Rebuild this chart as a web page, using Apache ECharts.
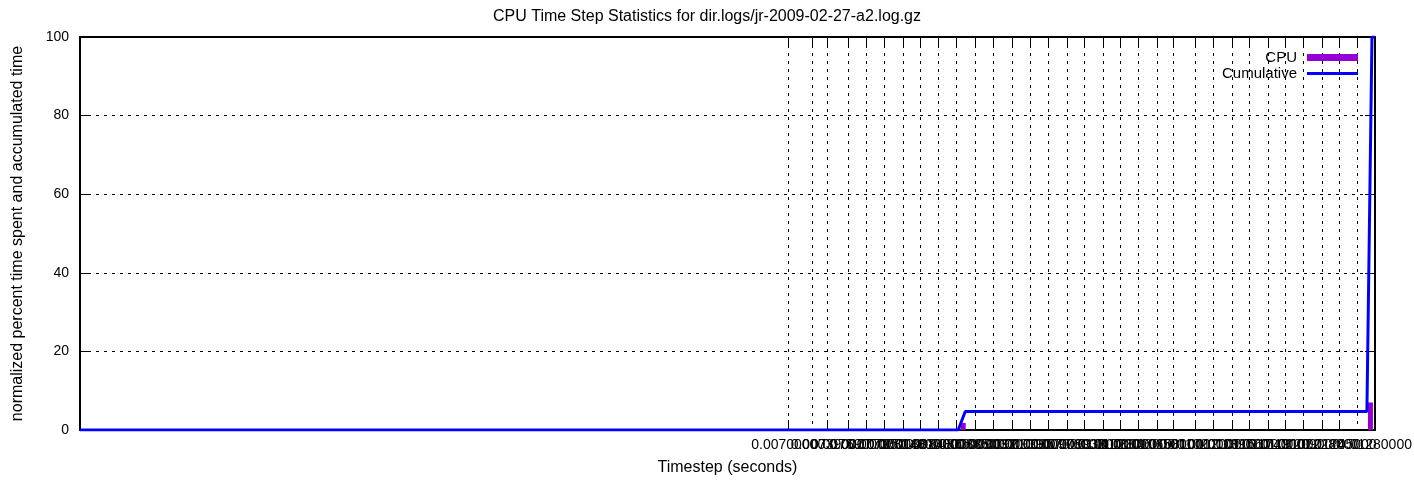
<!DOCTYPE html>
<html>
<head>
<meta charset="utf-8">
<script src="https://cdn.jsdelivr.net/npm/echarts@6/dist/echarts.min.js"></script>
<style>
html,body{margin:0;padding:0;background:#fff;}
#chart{width:1414px;height:487px;}
</style>
</head>
<body>
<div id="chart"></div>
<script>
// ---- data ----
const titleText = 'CPU Time Step Statistics for dir.logs/jr-2009-02-27-a2.log.gz';
const xTitle = 'Timestep (seconds)';
const yTitle = 'normalized percent time spent and accumulated time';

const tickValues = [0.00700, 0.00724, 0.00739, 0.00759, 0.00777, 0.00795, 0.00814, 0.00831,
  0.00848, 0.00866, 0.00885, 0.00903, 0.00921, 0.00939, 0.00957, 0.00976, 0.00993, 0.01011,
  0.01028, 0.01046, 0.01065, 0.01081, 0.01102, 0.01120, 0.01139, 0.01156, 0.01174, 0.01191,
  0.01209, 0.01228, 0.01245, 0.01262, 0.01280];
const tickLabels = ['0.00700000', '0.00724000', '0.00739000', '0.00759000', '0.00777000',
  '0.00795000', '0.00814000', '0.00831000', '0.00848000', '0.00866000', '0.00885000',
  '0.00903000', '0.00921000', '0.00939000', '0.00957000', '0.00976000', '0.00993000',
  '0.01011000', '0.01028000', '0.01046000', '0.01065000', '0.01081000', '0.01102000',
  '0.01120000', '0.01139000', '0.01156000', '0.01174000', '0.01191000', '0.01209000',
  '0.01228000', '0.01245000', '0.01262000', '0.01280000'];

const xMin = 0;
const xMax = 0.0128;

const cpuX = [0.00873, 0.012755];
const cpuY = [1.8, 7];

const cumX = [0, 0.00868, 0.00875, 0.01272, 0.01277, 0.0128];
const cumY = [0, 0, 4.7, 4.7, 100, 100];

// ---- chart ----
const FONT = 'Liberation Sans, Arial, sans-serif';
const txt = {fontFamily: FONT, fontSize: 14, color: '#000'};
const bigTxt = {fontFamily: FONT, fontSize: 16, color: '#000'};
const legTxt = {fontFamily: FONT, fontSize: 15, color: '#000'};

function labelFor(v) {
  let best = 0;
  for (let i = 1; i < tickValues.length; i++) {
    if (Math.abs(tickValues[i] - v) < Math.abs(tickValues[best] - v)) best = i;
  }
  return tickLabels[best];
}

const gridDash = {color: '#000', width: 1, type: [3, 5]};

const chart = echarts.init(document.getElementById('chart'), null, {renderer: 'canvas'});
chart.setOption({
  animation: false,
  backgroundColor: '#fff',
  title: {
    text: titleText, left: 'center', top: 4,
    textStyle: {fontFamily: FONT, fontSize: 16, fontWeight: 'normal', color: '#000'}
  },
  legend: [
    {
      data: [{name: 'CPU', icon: 'rect'}],
      right: 56, top: 50, padding: 0, align: 'right', selectedMode: false,
      itemWidth: 51, itemHeight: 7,
      textStyle: Object.assign({padding: [0, 5, 0, 0]}, legTxt)
    },
    {
      data: [{name: 'Cumulative', icon: 'rect'}],
      right: 56, top: 66, padding: 0, align: 'right', selectedMode: false,
      itemWidth: 51, itemHeight: 3,
      textStyle: Object.assign({padding: [0, 5, 0, 0]}, legTxt)
    }
  ],
  grid: {left: 80, right: 39, top: 37, bottom: 57, containLabel: false, outerBoundsMode: 'none'},
  xAxis: [
    {
      type: 'value', min: xMin, max: xMax, position: 'bottom',
      name: xTitle, nameLocation: 'middle', nameGap: 30, nameTextStyle: bigTxt,
      axisLine: {show: true, onZero: false, lineStyle: {color: '#000', width: 2}},
      axisTick: {show: true, inside: true, length: 10, customValues: tickValues,
        lineStyle: {color: '#000', width: 1}},
      axisLabel: Object.assign({customValues: tickValues, formatter: labelFor, margin: 8,
        hideOverlap: false, showMinLabel: true, showMaxLabel: true}, txt),
      splitLine: {show: true, lineStyle: gridDash}
    },
    {
      type: 'value', min: xMin, max: xMax, position: 'top',
      axisLine: {show: true, onZero: false, lineStyle: {color: '#000', width: 2}},
      axisTick: {show: true, inside: true, length: 10, customValues: tickValues,
        lineStyle: {color: '#000', width: 1}},
      axisLabel: {show: false, customValues: tickValues},
      splitLine: {show: false}
    }
  ],
  yAxis: [
    {
      type: 'value', min: 0, max: 100, interval: 20, position: 'left',
      name: yTitle, nameLocation: 'middle', nameGap: 54, nameRotate: 90, nameTextStyle: bigTxt,
      axisLine: {show: true, onZero: false, lineStyle: {color: '#000', width: 2}},
      axisTick: {show: true, inside: true, length: 10, lineStyle: {color: '#000', width: 1}},
      axisLabel: Object.assign({margin: 11}, txt),
      splitLine: {show: true, lineStyle: gridDash}
    },
    {
      type: 'value', min: 0, max: 100, interval: 20, position: 'right',
      axisLine: {show: true, onZero: false, lineStyle: {color: '#000', width: 2}},
      axisTick: {show: true, inside: true, length: 10, lineStyle: {color: '#000', width: 1}},
      axisLabel: {show: false},
      splitLine: {show: false}
    }
  ],
  series: [
    {
      name: 'CPU', type: 'bar', xAxisIndex: 0, yAxisIndex: 0,
      barWidth: 5, color: '#9400d3',
      itemStyle: {color: '#9400d3'},
      data: cpuX.map((x, i) => [x, cpuY[i]])
    },
    {
      name: 'Cumulative', type: 'line', xAxisIndex: 0, yAxisIndex: 0,
      showSymbol: false, symbol: 'none', color: '#0000ff',
      lineStyle: {color: '#0000ff', width: 3},
      itemStyle: {color: '#0000ff'},
      data: cumX.map((x, i) => [x, cumY[i]])
    }
  ]
});
</script>
</body>
</html>
